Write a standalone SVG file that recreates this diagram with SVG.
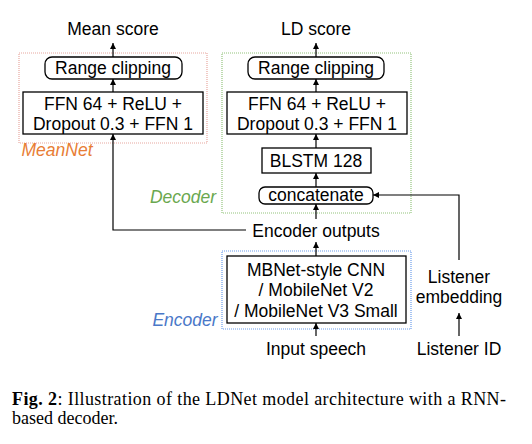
<svg xmlns="http://www.w3.org/2000/svg" width="532" height="444" viewBox="0 0 532 444">
<style>
text{font-family:"Liberation Sans",Arial,sans-serif;font-size:17.5px;fill:#000;text-anchor:middle}
.box{fill:#fff;stroke:#000;stroke-width:1.3}
.grp{fill:none;stroke-width:1.2;stroke-dasharray:1 1}
.lbl{font-style:italic}
.cap{font-family:"Liberation Serif","Times New Roman",serif;font-size:18px;text-anchor:start}
.ln{fill:none;stroke:#000;stroke-width:1.2;marker-end:url(#ah)}
</style>
<defs>
<marker id="ah" viewBox="0 0 6 6" refX="6" refY="3" markerWidth="6" markerHeight="6" markerUnits="userSpaceOnUse" orient="auto">
<path d="M0,0 L6,3 L0,6 z" fill="#000"/>
</marker>
</defs>
<rect width="532" height="444" fill="#fff"/>
<g id="meannet">
<rect class="grp" x="19" y="53" width="188" height="90" stroke="#e8a8a0"/>
<text class="lbl" x="57" y="156" style="fill:#e87d35">MeanNet</text>
</g>
<g id="decoder">
<rect class="grp" x="222" y="53" width="189" height="160" stroke="#93c47d"/>
<text class="lbl" x="183" y="203" style="fill:#6aa84f">Decoder</text>
</g>
<g id="encoder">
<rect class="grp" x="222" y="251" width="189" height="78" stroke="#6d9eeb"/>
<text class="lbl" x="185" y="326" style="fill:#4a78c8">Encoder</text>
</g>
<g id="mean-score"><text x="113" y="35">Mean score</text></g>
<g id="ld-score"><text x="316" y="35">LD score</text></g>
<g id="mean-clip">
<rect class="box" x="45" y="57" width="137" height="22" rx="7"/>
<text x="113" y="74">Range clipping</text>
</g>
<g id="mean-ffn">
<rect class="box" x="23" y="92" width="180" height="42"/>
<text x="113" y="110">FFN 64 + ReLU +</text>
<text x="113" y="130">Dropout 0.3 + FFN 1</text>
</g>
<g id="ld-clip">
<rect class="box" x="248" y="57" width="136" height="22" rx="7"/>
<text x="316" y="74">Range clipping</text>
</g>
<g id="ld-ffn">
<rect class="box" x="227" y="92" width="180" height="42"/>
<text x="317" y="110">FFN 64 + ReLU +</text>
<text x="317" y="130">Dropout 0.3 + FFN 1</text>
</g>
<g id="blstm">
<rect class="box" x="262" y="148" width="109" height="25"/>
<text x="316" y="167">BLSTM 128</text>
</g>
<g id="concat">
<rect class="box" x="259" y="187" width="114" height="17" rx="6"/>
<text x="316" y="201">concatenate</text>
</g>
<g id="enc-out"><text x="316" y="237">Encoder outputs</text></g>
<g id="cnn">
<rect class="box" x="227" y="256" width="179" height="67"/>
<text x="316" y="276">MBNet-style CNN</text>
<text x="316" y="296">/ MobileNet V2</text>
<text x="316" y="317">/ MobileNet V3 Small</text>
</g>
<g id="input"><text x="316" y="355">Input speech</text></g>
<g id="listener-emb">
<text x="459" y="283">Listener</text>
<text x="459" y="303">embedding</text>
</g>
<g id="listener-id"><text x="459" y="355">Listener ID</text></g>
<g id="connectors">
<path class="ln" d="M113,57 V43"/>
<path class="ln" d="M113,92 V79"/>
<path class="ln" d="M246,230 H113 V134"/>
<path class="ln" d="M316,57 V43"/>
<path class="ln" d="M316,92 V79"/>
<path class="ln" d="M316,148 V134"/>
<path class="ln" d="M316,187 V173"/>
<path class="ln" d="M316,219 V204"/>
<path class="ln" d="M316,256 V242"/>
<path class="ln" d="M316,336 V323"/>
<path class="ln" d="M459,260 V195 H373"/>
<path class="ln" d="M459,336 V313"/>
</g>
<g id="caption">
<text class="cap" x="12" y="405" textLength="494" lengthAdjust="spacing"><tspan font-weight="bold">Fig. 2</tspan>: Illustration of the LDNet model architecture with a RNN-</text>
<text class="cap" x="12" y="424">based decoder.</text>
</g>
</svg>
